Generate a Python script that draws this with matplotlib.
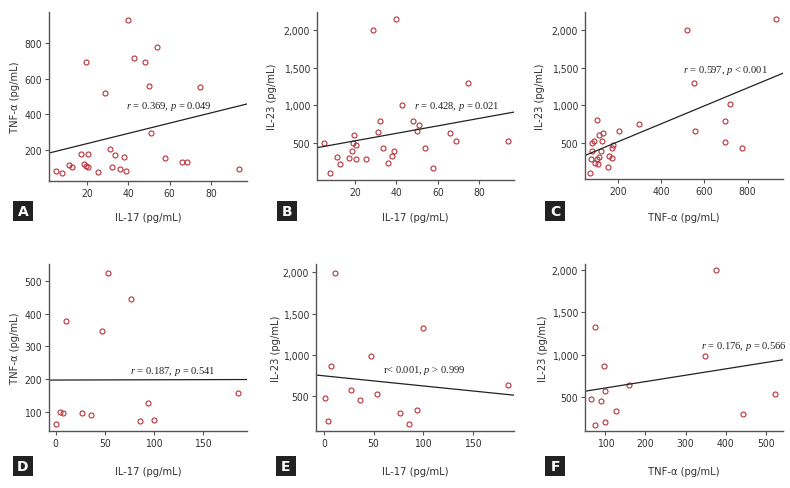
import numpy as np
import matplotlib.pyplot as plt
from matplotlib.patches import Rectangle
from matplotlib.ticker import FuncFormatter

# group 1 (top row), 29 patients
il17_1 = [5.2, 8.0, 11.2, 12.9, 17.0, 18.4, 19.3, 19.4, 20.5, 20.4, 25.5, 28.6, 30.9, 32.1, 33.3,
          35.9, 37.9, 38.7, 40.0, 42.8, 48.0, 50.0, 51.0, 53.9, 57.6, 66.0, 68.6, 74.7, 93.6]
tnf_1 = [81, 70, 112, 105, 173, 119, 694, 111, 101, 175, 76, 518, 206, 104, 171,
         93, 157, 81, 930, 718, 694, 558, 296, 776, 155, 131, 128, 554, 90]
il23_1 = [496, 101, 315, 218, 293, 395, 505, 600, 280, 469, 282, 2002, 651, 798, 433,
          233, 328, 393, 2147, 1012, 790, 660, 745, 428, 171, 631, 520, 1299, 520]

# group 2 (bottom row), 13 patients
il17_2 = [0.5, 4.0, 7.1, 10.6, 26.9, 36.3, 47.4, 53.1, 76.6, 85.5, 93.5, 100.3, 185.7]
tnf_2 = [64, 99, 96, 377, 98, 90, 348, 524, 443, 73, 126, 75, 158]
il23_2 = [482, 200, 863, 1995, 577, 456, 983, 531, 295, 168, 335, 1323, 639]

stats = ["$r$ = 0.369, $p$ = 0.049", "$r$ = 0.428, $p$ = 0.021", "$r$ = 0.597, $p$ < 0.001",
         "$r$ = 0.187, $p$ = 0.541", "r< 0.001, $p$ > 0.999", "$r$ = 0.176, $p$ = 0.566"]
letters = ["A", "B", "C", "D", "E", "F"]

lab_il17 = "IL-17 (pg/mL)"
lab_tnf = "TNF-α (pg/mL)"
lab_il23 = "IL-23 (pg/mL)"

W, H = 790, 489
plt.rcParams['mathtext.fontset'] = 'custom'
plt.rcParams['mathtext.it'] = 'Liberation Serif:italic'
plt.rcParams['mathtext.rm'] = 'Liberation Serif'
plt.rcParams['font.family'] = 'DejaVu Sans'
plt.rcParams['font.stretch'] = 'condensed'

fig = plt.figure(figsize=(W / 100, H / 100), dpi=100)

# x, y, xlim, ylim, xticks, yticks, xlabel, ylabel, text pos, axes box (l, t, r, b), ylabel offset
panels = [
    (il17_1, tnf_1, (1.6, 97.4), (24, 974), [20, 40, 60, 80], [200, 400, 600, 800],
     lab_il17, lab_tnf, (38.9, 447), (49, 13, 247, 182), 34),
    (il17_1, il23_1, (1.7, 96.7), (6, 2245), [20, 40, 60, 80], [500, 1000, 1500, 2000],
     lab_il17, lab_il23, (48.6, 999), (317, 13, 514, 181), 45),
    (tnf_1, il23_1, (47, 964), (15, 2245), [200, 400, 600, 800], [500, 1000, 1500, 2000],
     lab_tnf, lab_il23, (501, 1479), (585, 13, 783, 180), 45),
    (il17_2, tnf_2, (-6.8, 194.6), (42, 551), [0, 50, 100, 150], [100, 200, 300, 400, 500],
     lab_il17, lab_tnf, (75.5, 225), (49, 265, 247, 432), 34),
    (il17_2, il23_2, (-8.1, 191.7), (82, 2101), [0, 50, 100, 150], [500, 1000, 1500, 2000],
     lab_il17, lab_il23, (59.9, 826), (316, 265, 514, 432), 40),
    (tnf_2, il23_2, (49.3, 543), (99, 2071), [100, 200, 300, 400, 500], [500, 1000, 1500, 2000],
     lab_tnf, lab_il23, (339.5, 1105), (585, 265, 783, 432), 42),
]

comma = FuncFormatter(lambda v, p: f"{int(v):,}")

for i, (x, y, xl, yl, xt, yt, xlab, ylab, tpos, box, yoff) in enumerate(panels):
    l, t, r, b = box
    ax = fig.add_axes([l / W, 1 - b / H, (r - l) / W, (b - t) / H])
    ax.plot(x, y, 'o', ms=3.6, mfc='none', mec='#b8323a', mew=0.8)
    # linear fit line across the whole axis
    k, c = np.polyfit(x, y, 1)
    xx = np.array(xl)
    ax.plot(xx, k * xx + c, color='#222222', lw=0.9)
    ax.set_xlim(xl)
    ax.set_ylim(yl)
    ax.set_xticks(xt)
    ax.set_yticks(yt)
    ax.yaxis.set_major_formatter(comma)
    for s in ['top', 'right']:
        ax.spines[s].set_visible(False)
    for s in ['left', 'bottom']:
        ax.spines[s].set_color('#555555')
        ax.spines[s].set_linewidth(1.0)
    ax.tick_params(length=3, width=0.8, color='#555555', labelsize=7.5, labelcolor='#333333', pad=2)
    ax.text(tpos[0], tpos[1], stats[i], ha='left', va='center', fontsize=7.6,
            family='Liberation Serif', color='#222222')

    # axis titles and panel letter
    row_top = t < 100
    fig.text(((l + r) / 2) / W, 1 - (218 if row_top else 472) / H, xlab, ha='center', va='center',
             fontsize=8, color='#333333')
    fig.text((l - yoff) / W, 1 - ((t + b) / 2) / H, ylab, ha='center', va='center', rotation=90,
             fontsize=8, color='#333333')
    bx = l - 36 if i % 3 == 0 else l - 40
    by = 222 if row_top else 477
    fig.patches.append(Rectangle((bx / W, 1 - by / H), 20 / W, 20 / H, transform=fig.transFigure,
                                 fc='#222222', ec='none'))
    fig.text((bx + 10) / W, 1 - (by - 10) / H, letters[i], ha='center', va='center',
             fontsize=10, fontweight='bold', fontstretch='normal', color='white')

fig.savefig('out.png', dpi=100)
